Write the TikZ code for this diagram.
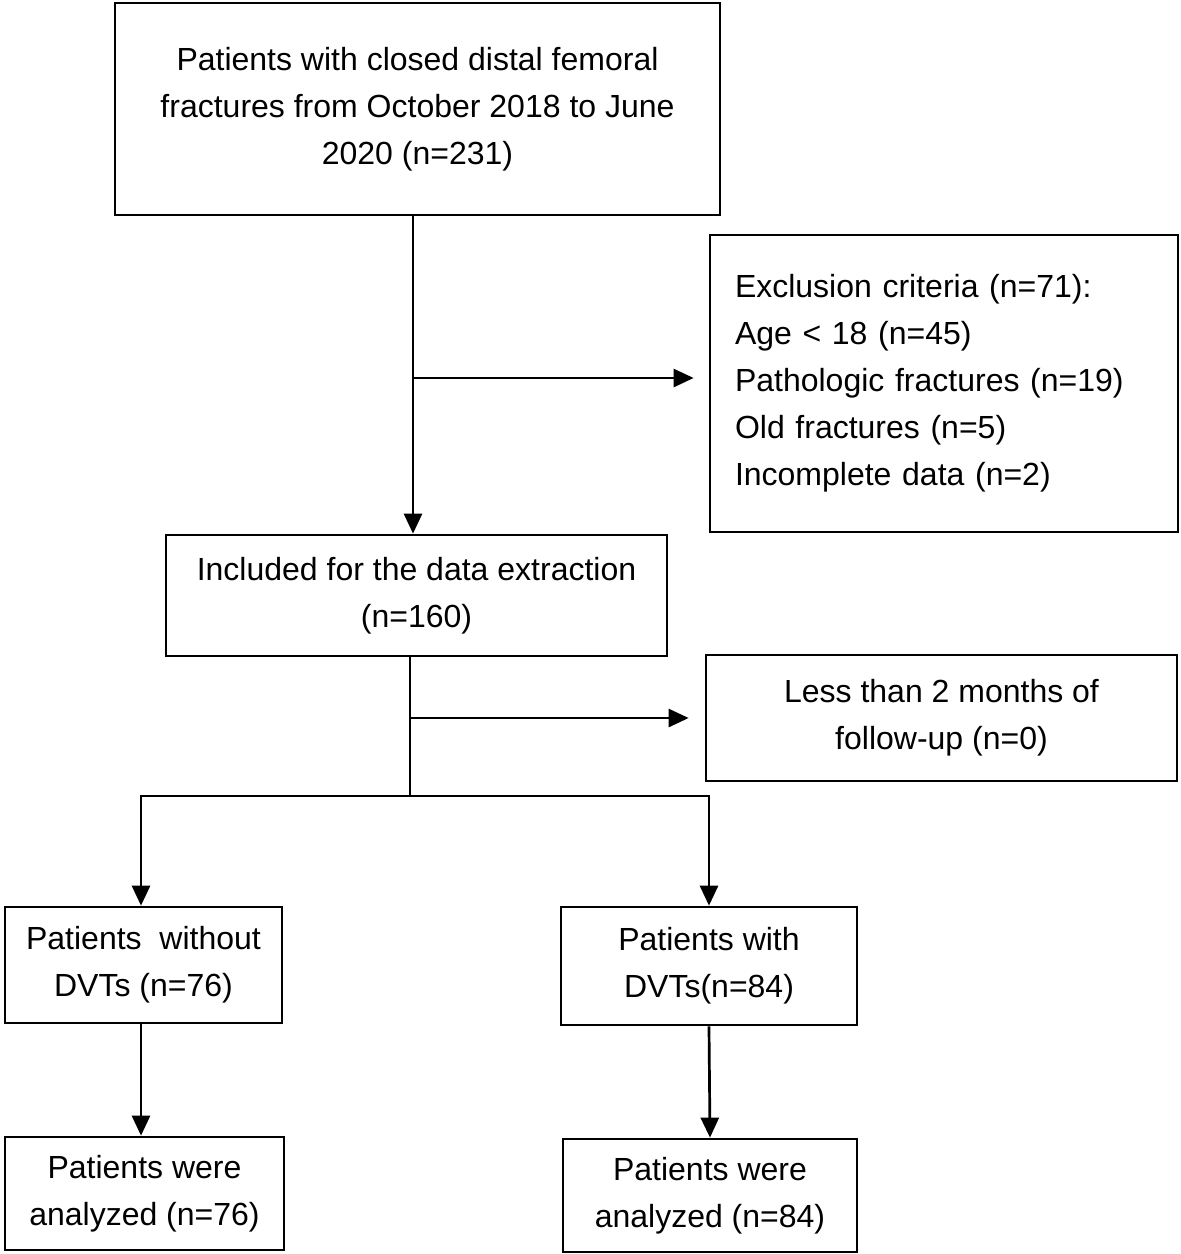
\documentclass[tikz,border=0pt]{standalone}
\usepackage{fontspec}
\setmainfont{Liberation Sans}
\usetikzlibrary{arrows.meta}
\begin{document}
\begin{tikzpicture}[x=0.5pt,y=-0.5pt,
  box/.style={draw=black,line width=1.35pt,inner sep=0pt,align=center,
    font=\fontsize{16}{23.5}\selectfont},
  conn/.style={line width=1.35pt},
  arr/.style={line width=1.35pt,-{Triangle[length=10pt,width=9pt]}}]
\useasboundingbox[fill=white] (0,0) rectangle (1181,1254);
\node[box,minimum width=302.5pt,minimum height=106pt] (top) at (417.5,109)
  {Patients with closed distal femoral\\fractures from October 2018 to June\\2020 (n=231)};
\node[box,align=left,text width=209pt,inner xsep=12.5pt,minimum height=148.5pt] (excl) at (944,383.5)
  {Exclusion criteria (n=71):\\Age < 18 (n=45)\\Pathologic fractures (n=19)\\Old fractures (n=5)\\Incomplete data (n=2)};
\node[box,minimum width=250.5pt,minimum height=60.5pt] (incl) at (416.5,595.5)
  {Included for the data extraction\\(n=160)};
\node[box,minimum width=235.5pt,minimum height=63pt] (less) at (941.5,718)
  {Less than 2 months of\\follow-up (n=0)};
\node[box,minimum width=138.5pt,minimum height=58pt] (dl) at (143.5,965)
  {Patients\ \ without\\DVTs (n=76)};
\node[box,minimum width=148pt,minimum height=59pt] (dr) at (709,966)
  {Patients with\\DVTs(n=84)};
\node[box,minimum width=139.5pt,minimum height=56.5pt] (al) at (144.5,1193.5)
  {Patients were\\analyzed (n=76)};
\node[box,minimum width=147pt,minimum height=56.5pt] (ar) at (710,1195.5)
  {Patients were\\analyzed (n=84)};
\coordinate (split) at (410,796);
\coordinate (b1) at (413,378);
\coordinate (lx) at (141,0);
\draw[arr] (top.south -| b1) -- (incl.north -| b1);
\draw[arr] (b1) -- ([xshift=-7.5pt]excl.west |- b1);
\draw[conn] (incl.south -| split) -- (split);
\draw[arr] (split |- less.west) -- ([xshift=-8pt]less.west);
\draw[arr] (split) -| (dl.north -| lx);
\draw[arr] (split) -| (dr.north);
\draw[arr] (dl.south -| lx) -- (al.north -| lx);
\draw[arr] (dr.south) -- (ar.north);
\end{tikzpicture}
\end{document}
